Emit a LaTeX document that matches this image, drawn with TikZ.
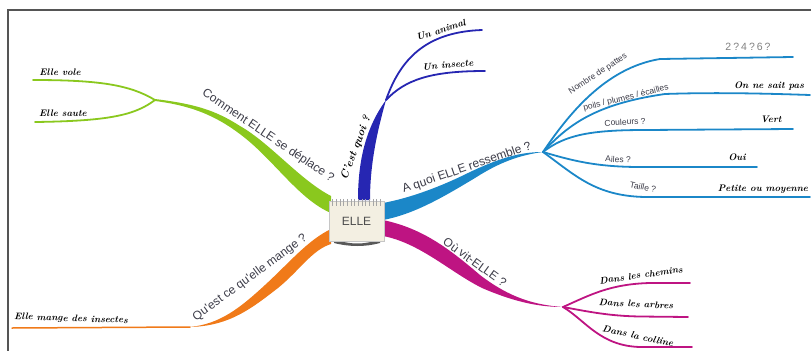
\documentclass[tikz,border=0pt]{standalone}
\usepackage{fontspec}
\newfontfamily\lsans{Liberation Sans}
\usetikzlibrary{calc}
\definecolor{cgreen}{RGB}{138,200,30}
\definecolor{cdblue}{RGB}{38,38,178}
\definecolor{clblue}{RGB}{27,135,200}
\definecolor{cmag}{RGB}{190,20,130}
\definecolor{corange}{RGB}{240,122,25}
\definecolor{labgray}{RGB}{60,60,72}
\definecolor{boxfill}{RGB}{243,239,226}
\definecolor{framegray}{RGB}{85,85,85}
\tikzset{
  lab/.style={font=\lsans\fontsize{12}{12}\selectfont, text=labgray, inner sep=0pt},
  slab/.style={font=\lsans\fontsize{8.5}{8.5}\selectfont, text=labgray, inner sep=0pt},
  hand/.style={font=\bfseries\itshape\fontsize{9.5}{9.5}\selectfont, text=black, inner sep=0pt},
  twig/.style={line width=1.8pt, line cap=round},
  ellebox/.style={draw=gray!45, fill=boxfill, minimum width=55pt, minimum height=40pt, inner sep=0pt,
     font=\lsans\fontsize{12}{12}\selectfont, text=black!70},
}
\begin{document}
\begin{tikzpicture}[x=1pt,y=-1pt]
\useasboundingbox (0,0) rectangle (811,351);
% frame
\draw[framegray, line width=1.5pt] (811,10) -- (8,10) -- (8,351);

% junction coordinates
\coordinate (jg) at (155,100);
\coordinate (jb) at (386,100);
\coordinate (jl) at (543,152);
\coordinate (jm) at (563,307);
\coordinate (jo) at (190,327);

% leaf ends
\coordinate (evole) at (33,80);
\coordinate (esaute) at (35,122);
\coordinate (eanimal) at (482,30);
\coordinate (einsecte) at (485,71);
\coordinate (epattes) at (793,57);
\coordinate (epoils) at (810,95);
\coordinate (ecoul) at (793,129);
\coordinate (eailes) at (757,167);
\coordinate (etaille) at (810,197);
\coordinate (echemins) at (690,283);
\coordinate (earbres) at (688,317);
\coordinate (ecolline) at (692,347);
\coordinate (emange) at (12,328);

% ---- green branch
\fill[cgreen] (155,99) .. controls (195,104) and (215,110) .. (240,126)
   .. controls (270,143) and (300,180) .. (331,196) -- (331,213)
   .. controls (300,200) and (275,162) .. (245,138)
   .. controls (220,118) and (195,106) .. (155,101) -- cycle;
\draw[twig, cgreen] (jg) .. controls (130,85) and (100,80) .. (evole);
\draw[twig, cgreen] (jg) .. controls (135,115) and (110,121) .. (esaute);

% ---- dark blue branch
\fill[cdblue] (358,200) .. controls (358,165) and (364,130) .. (jb)
   .. controls (379,125) and (370,160) .. (370,200) -- cycle;
\draw[twig, cdblue] (jb) .. controls (400,60) and (425,32) .. (eanimal);
\draw[twig, cdblue] (jb) .. controls (405,80) and (430,71) .. (einsecte);

% ---- light blue branch
\fill[clblue] (383,203) .. controls (410,198) and (440,187) .. (470,172)
   .. controls (500,158) and (520,152) .. (jl)
   .. controls (520,155) and (500,162) .. (475,178)
   .. controls (445,196) and (415,214) .. (383,220) -- cycle;
\draw[twig, clblue] (jl) .. controls (568,115) and (605,68) .. (660,59) -- (epattes);
\draw[twig, clblue] (jl) .. controls (568,125) and (595,104) .. (665,94) .. controls (720,92) and (780,94) .. (epoils);
\draw[twig, clblue] (jl) .. controls (565,135) and (590,130) .. (645,130) -- (ecoul);
\draw[twig, clblue] (jl) .. controls (570,160) and (595,167) .. (640,167) -- (eailes);
\draw[twig, clblue] (jl) .. controls (575,175) and (595,196) .. (645,197) -- (etaille);

% ---- magenta branch
\fill[cmag] (383,220) .. controls (420,228) and (445,245) .. (480,275)
   .. controls (510,298) and (535,305) .. (jm)
   .. controls (535,307) and (510,300) .. (482,288)
   .. controls (450,272) and (420,243) .. (383,236) -- cycle;
\draw[twig, cmag] (jm) .. controls (590,295) and (610,284) .. (650,283) -- (echemins);
\draw[twig, cmag] (jm) .. controls (590,312) and (610,316) .. (640,316.5) -- (earbres);
\draw[twig, cmag] (jm) .. controls (585,320) and (600,346) .. (640,347) -- (ecolline);

% ---- orange branch
\fill[corange] (331,229) .. controls (308,240) and (290,262) .. (265,285)
   .. controls (240,308) and (220,324) .. (jo)
   .. controls (230,326) and (252,308) .. (278,288)
   .. controls (300,270) and (312,250) .. (331,244) -- cycle;
\draw[twig, corange, line width=1.5pt] (jo) -- (emange);

% ---- central box
\fill[black!65] (334,239) .. controls (350,245) and (365,245) .. (380,239) -- (380,243)
   .. controls (365,247) and (350,247) .. (334,243) -- cycle;
\node[ellebox] (elle) at (356.5,221) {ELLE};
\foreach \i in {0,...,13} {
  \draw[gray!70, line width=0.9pt] ($(elle.north west)+(4+\i*3.65,-2)$) -- ++(0,7);
}

% ---- branch labels
\node[lab, rotate=-34] (lcomment) at (268,136) {Comment ELLE se déplace ?};
\node[lab, rotate=19] (lquoi) at (467,168) {A quoi ELLE ressemble ?};
\node[lab, rotate=-36] (lou) at (475,262) {Où vit-ELLE ?};
\node[lab, rotate=36] (lmange) at (250,278) {Qu'est ce qu'elle mange ?};
\node[hand, rotate=69, font=\bfseries\itshape\fontsize{11}{11}\selectfont] (lcest) at (356,148) {C'est quoi ?};

% ---- small labels (light blue)
\node[slab, rotate=33] (lpattes) at (598,74) {Nombre de pattes};
\node[slab, rotate=14] (lpoils) at (626,98) {poils / plumes / écailles};
\node[slab, rotate=3] (lcoul) at (625,122) {Couleurs ?};
\node[slab, rotate=-3] (lailes) at (618,159.5) {Ailes ?};
\node[slab, rotate=-12] (ltaille) at (643,187) {Taille ?};

% ---- leaf texts
\node[hand] (tvole) at (60,72) {Elle vole};
\node[hand] (tsaute) at (63,113) {Elle saute};
\node[hand, rotate=18] (tanimal) at (441,30) {Un animal};
\node[hand, rotate=5] (tinsecte) at (448,65) {Un insecte};
\node[font=\lsans\fontsize{10.5}{10.5}\selectfont, text=gray, inner sep=0pt] (t246) at (748,47) {2\hspace{2pt}?\hspace{2pt}4\hspace{2pt}?\hspace{2pt}6\hspace{2pt}?};
\node[hand] (tsait) at (769,86) {On ne sait pas};
\node[hand] (tvert) at (771,119) {Vert};
\node[hand] (toui) at (737,157) {Oui};
\node[hand] (tpetite) at (763,189) {Petite ou moyenne};
\node[hand, rotate=8] (tchemins) at (641,275) {Dans les chemins};
\node[hand, rotate=-3] (tarbres) at (636,304) {Dans les arbres};
\node[hand, rotate=-12] (tcolline) at (638,336) {Dans la colline};
\node[hand, rotate=-2] (tmange) at (71,319) {Elle mange des insectes};
\end{tikzpicture}
\end{document}
